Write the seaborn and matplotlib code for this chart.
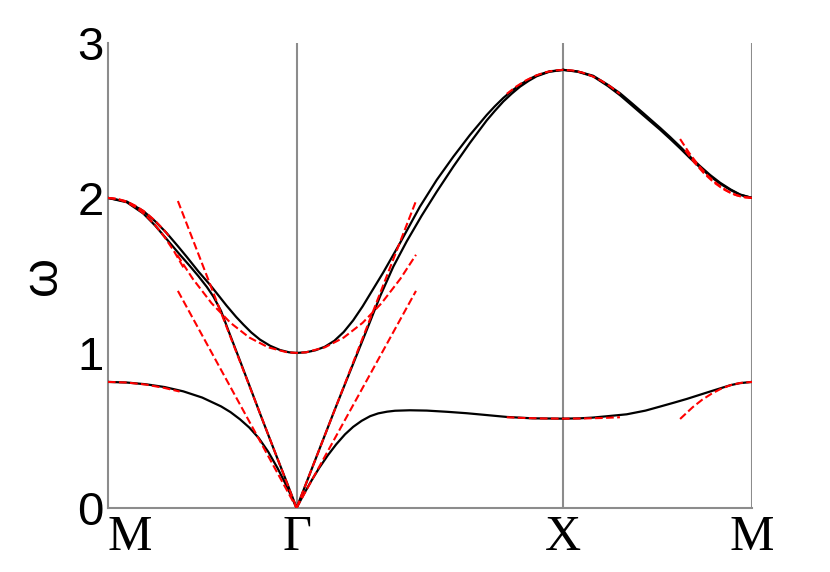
import numpy as np
import matplotlib
matplotlib.use('Agg')
import matplotlib.pyplot as plt
import seaborn as sns

# k-path positions (M - Gamma - X - M) and labels
k_ticks = [0.0, 1.0, 2.414, 3.414]
k_labels = ['M', 'Γ', 'X', 'M']
w_ticks = [0, 1, 2, 3]

# ---- black bands ----
# lowest band
b1_mg_k = [0, 0.10, 0.20, 0.30, 0.40, 0.50, 0.60, 0.65, 0.70, 0.75, 0.80, 0.85, 0.90, 0.95, 1.0]
b1_mg_w = [0.813, 0.809, 0.798, 0.780, 0.752, 0.712, 0.655, 0.618, 0.572, 0.518, 0.450, 0.362, 0.255, 0.135, 0]
b1_gx_k = [1.0, 1.04, 1.08, 1.12, 1.166, 1.21, 1.257, 1.30, 1.345, 1.39, 1.433, 1.48, 1.522, 1.60, 1.69, 1.80, 1.902, 2.0, 2.114, 2.25, 2.414]
b1_gx_w = [0, 0.092, 0.178, 0.258, 0.340, 0.410, 0.475, 0.523, 0.562, 0.592, 0.610, 0.621, 0.627, 0.630, 0.628, 0.620, 0.611, 0.600, 0.587, 0.578, 0.576]
b1_xm_k = [2.414, 2.50, 2.572, 2.65, 2.75, 2.85, 2.927, 3.0, 3.068, 3.13, 3.192, 3.25, 3.30, 3.35, 3.414]
b1_xm_w = [0.576, 0.578, 0.583, 0.592, 0.604, 0.628, 0.654, 0.679, 0.703, 0.727, 0.751, 0.773, 0.792, 0.805, 0.813]

# middle band
b2_mg_k = [0, 0.10, 0.187, 0.250, 0.311, 0.370, 0.435, 0.480, 0.525, 0.56, 0.60, 0.64, 0.70, 0.75, 0.806, 0.895, 0.950, 1.0]
b2_mg_w = [2.0, 1.972, 1.900, 1.822, 1.735, 1.650, 1.560, 1.495, 1.425, 1.362, 1.270, 1.140, 0.950, 0.790, 0.610, 0.330, 0.160, 0]
b2_gx_k = [1.0, 1.05, 1.124, 1.200, 1.257, 1.310, 1.372, 1.442, 1.513, 1.584, 1.663, 1.743, 1.831, 1.919, 2.008, 2.05, 2.096, 2.14, 2.185, 2.23, 2.273, 2.34, 2.414]
b2_gx_w = [0, 0.156, 0.388, 0.626, 0.800, 0.960, 1.148, 1.363, 1.557, 1.720, 1.885, 2.040, 2.202, 2.355, 2.500, 2.560, 2.622, 2.672, 2.718, 2.755, 2.785, 2.814, 2.826]
xm_k = [2.414, 2.490, 2.572, 2.650, 2.715, 2.780, 2.837, 2.880, 2.927, 2.980, 3.033, 3.086, 3.139, 3.192, 3.245, 3.300, 3.351, 3.414]
b2_xm_w = [2.826, 2.814, 2.784, 2.722, 2.662, 2.594, 2.534, 2.489, 2.440, 2.381, 2.320, 2.256, 2.196, 2.140, 2.092, 2.051, 2.020, 2.0]

# upper band
b3_mg_k = [0, 0.10, 0.187, 0.250, 0.311, 0.370, 0.417, 0.480, 0.541, 0.590, 0.629, 0.680, 0.718, 0.760, 0.806, 0.860, 0.912, 0.960, 1.0]
b3_mg_w = [2.0, 1.977, 1.916, 1.850, 1.774, 1.690, 1.621, 1.525, 1.440, 1.365, 1.305, 1.232, 1.183, 1.132, 1.086, 1.046, 1.019, 1.004, 1.0]
b3_gx_k = [1.0, 1.05, 1.10, 1.15, 1.20, 1.25, 1.30, 1.35, 1.40, 1.46, 1.548, 1.654, 1.743, 1.831, 1.919, 2.008, 2.05, 2.096, 2.14, 2.185, 2.23, 2.273, 2.34, 2.414]
b3_gx_w = [1.0, 1.004, 1.017, 1.040, 1.078, 1.135, 1.210, 1.300, 1.400, 1.520, 1.708, 1.944, 2.116, 2.266, 2.406, 2.535, 2.590, 2.645, 2.690, 2.730, 2.764, 2.790, 2.816, 2.826]
b3_xm_w = [2.826, 2.816, 2.788, 2.730, 2.675, 2.608, 2.548, 2.502, 2.452, 2.393, 2.331, 2.266, 2.205, 2.148, 2.098, 2.055, 2.022, 2.0]

# ---- red dashed approximations ----
fit_m_a_k = [0, 0.05, 0.10, 0.15, 0.20, 0.25, 0.30, 0.33]
fit_m_a_w = [2.0, 1.994, 1.977, 1.947, 1.906, 1.853, 1.789, 1.744]
fit_m_b_k = [0, 0.05, 0.10, 0.15, 0.20, 0.25, 0.30, 0.35, 0.40]
fit_m_b_w = [2.0, 1.993, 1.972, 1.937, 1.888, 1.825, 1.748, 1.657, 1.552]
fit_m_low_k = [0, 0.1, 0.2, 0.3, 0.38]
fit_m_low_w = [0.813, 0.809, 0.796, 0.774, 0.751]

fit_g_k = [0.367, 0.45, 0.55, 0.65, 0.75, 0.85, 0.95, 1.0, 1.05, 1.15, 1.25, 1.35, 1.45, 1.55, 1.633]
fit_g_w = [1.633, 1.478, 1.320, 1.194, 1.099, 1.036, 1.004, 1.0, 1.004, 1.036, 1.099, 1.194, 1.320, 1.478, 1.633]
sound_k = [[0.371, 1.0], [0.371, 1.0], [1.0, 1.633], [1.0, 1.633]]
sound_w = [[1.98, 0], [1.40, 0], [0, 1.98], [0, 1.40]]

fit_x_k = [2.114, 2.164, 2.214, 2.264, 2.314, 2.364, 2.414, 2.464, 2.514, 2.564, 2.614, 2.664, 2.714]
fit_x_w = [2.671, 2.718, 2.757, 2.787, 2.809, 2.822, 2.826, 2.822, 2.809, 2.787, 2.757, 2.718, 2.671]
fit_x_low_k = [2.114, 2.214, 2.314, 2.414, 2.514, 2.614, 2.714]
fit_x_low_w = [0.585, 0.580, 0.577, 0.576, 0.577, 0.580, 0.585]

fit_m2_a_k = [3.033, 3.08, 3.13, 3.18, 3.23, 3.28, 3.33, 3.38, 3.414]
fit_m2_a_w = [2.380, 2.292, 2.211, 2.143, 2.089, 2.047, 2.018, 2.003, 2.0]
fit_m2_b_k = [3.06, 3.11, 3.16, 3.21, 3.26, 3.31, 3.36, 3.414]
fit_m2_b_w = [2.307, 2.226, 2.158, 2.102, 2.058, 2.026, 2.007, 2.0]
fit_m2_low_k = [3.033, 3.10, 3.15, 3.20, 3.25, 3.30, 3.35, 3.414]
fit_m2_low_w = [0.574, 0.650, 0.698, 0.737, 0.769, 0.792, 0.806, 0.813]

sns.set_style('white')
plt.rcParams['font.family'] = ['Liberation Sans', 'DejaVu Sans']
plt.rcParams['text.color'] = 'black'
plt.rcParams['axes.labelcolor'] = 'black'

fig = plt.figure(figsize=(8.3, 5.72), dpi=100)
ax = fig.add_axes([0.130, 0.112, 0.776, 0.813])

grey = '#8c8c8c'
for k in k_ticks[1:]:
    ax.axvline(k, color=grey, lw=1.5, zorder=1)

black = [(b1_mg_k, b1_mg_w), (b1_gx_k, b1_gx_w), (b1_xm_k, b1_xm_w),
         (b2_mg_k, b2_mg_w), (b2_gx_k, b2_gx_w), (xm_k, b2_xm_w),
         (b3_mg_k, b3_mg_w), (b3_gx_k, b3_gx_w), (xm_k, b3_xm_w)]
for kk, ww in black:
    sns.lineplot(x=kk, y=ww, ax=ax, sort=False, estimator=None,
                 color='black', lw=1.6, zorder=3)

red = [(fit_m_a_k, fit_m_a_w), (fit_m_b_k, fit_m_b_w), (fit_m_low_k, fit_m_low_w),
       (fit_g_k, fit_g_w), (fit_x_k, fit_x_w), (fit_x_low_k, fit_x_low_w),
       (fit_m2_a_k, fit_m2_a_w), (fit_m2_b_k, fit_m2_b_w), (fit_m2_low_k, fit_m2_low_w)]
red += list(zip(sound_k, sound_w))
for kk, ww in red:
    sns.lineplot(x=kk, y=ww, ax=ax, sort=False, estimator=None,
                 color='red', lw=1.5, linestyle='--', dashes=(3, 2), zorder=4)

ax.set_xlim(k_ticks[0], k_ticks[-1])
ax.set_ylim(0, 3)
ax.set_yticks(w_ticks)
ax.set_yticklabels([str(t) for t in w_ticks], fontsize=34, color='black')
ax.set_xticks(k_ticks)
xl = ax.set_xticklabels(k_labels, fontsize=36, family='Liberation Serif', color='black')
xl[0].set_horizontalalignment('left')
ax.tick_params(axis='y', direction='in', length=5, color=grey, pad=3)
ax.tick_params(axis='x', length=0, pad=5)
ax.set_ylabel('ω', fontsize=36, labelpad=8)

for side in ['top', 'right']:
    ax.spines[side].set_visible(False)
for side in ['left', 'bottom']:
    ax.spines[side].set_color(grey)
    ax.spines[side].set_linewidth(1.5)

fig.savefig('out.png', dpi=100)
